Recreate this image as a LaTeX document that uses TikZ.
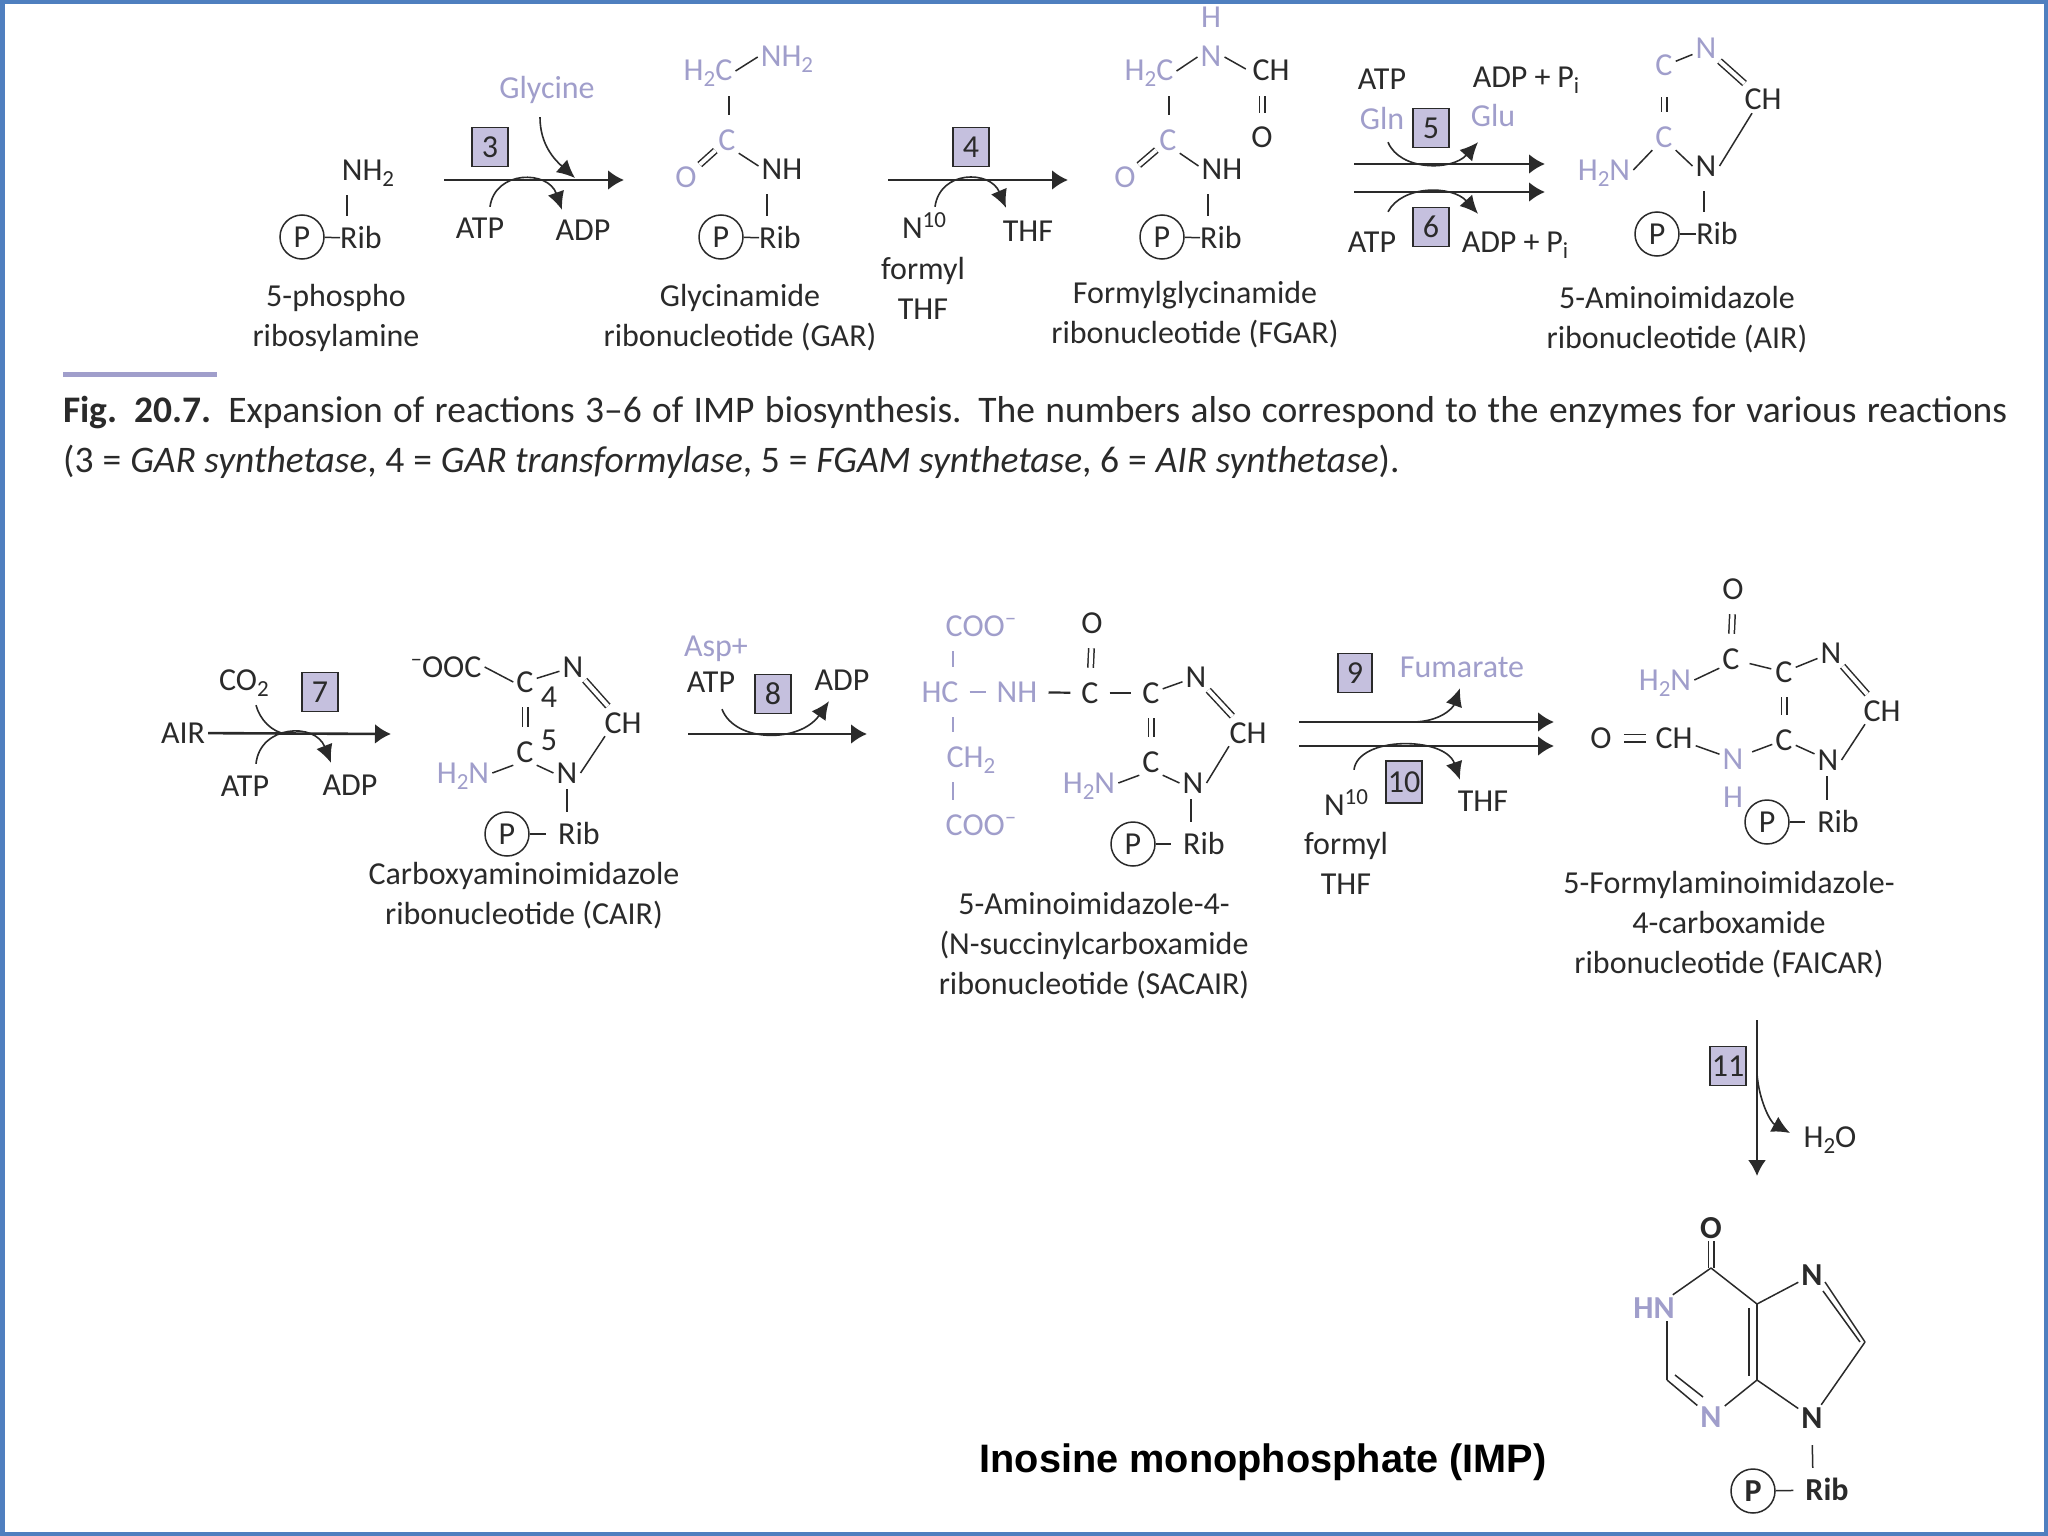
\documentclass[tikz,border=0pt]{standalone}
\usepackage{fontspec}
\setmainfont{Carlito}
\newfontfamily\arialfont{Liberation Sans}
\usepackage{xcolor}
\usepackage{tikz}
\usetikzlibrary{arrows.meta}

\definecolor{ink}{HTML}{2A2A2A}
\definecolor{lilac}{HTML}{A09ECB}
\definecolor{boxfill}{HTML}{C5C0DE}
\definecolor{framecol}{HTML}{4F7FBF}

\newcommand{\subt}[1]{\raisebox{-6pt}{\fontsize{23}{23}\selectfont #1}}
\newcommand{\supt}[1]{\raisebox{11pt}{\fontsize{23}{23}\selectfont #1}}
\newcommand{\eqs}{\hspace{9pt}=\hspace{9pt}}

\tikzset{
	every node/.style={font=\fontsize{32}{40}\selectfont, text=ink},
	atom/.style={inner sep=3pt, text height=20pt, text depth=0pt},
	atomL/.style={atom, text=lilac},
	lbl/.style={align=center, anchor=base, inner sep=0pt, yshift=-1.5pt},
	rib/.style={inner sep=0pt, text height=20pt, text depth=0pt},
	pcirc/.style={circle, draw=ink, line width=1.5pt, minimum size=44pt, inner sep=0pt},
	enz/.style={draw=ink, fill=boxfill, line width=1.3pt, minimum width=36pt, minimum height=39pt, inner sep=0pt},
	bond/.style={draw=ink, line width=1.5pt},
	dbond/.style={bond, double, double distance=4pt},
	vbond/.style={bond, shorten <=12pt, shorten >=12pt},
	vdbond/.style={vbond, double, double distance=4pt},
	hbond/.style={bond, line width=2.2pt, shorten <=8pt, shorten >=8pt},
	rxn/.style={draw=ink, line width=2.6pt, -{Latex[length=16pt, width=20pt]}},
	thinrxn/.style={draw=ink, line width=2pt, -{Latex[length=16pt, width=18pt]}},
	curv/.style={draw=ink, line width=1.6pt, -{Latex[length=18pt, width=17pt]}},
	feed/.style={draw=ink, line width=1.6pt},
	boldtxt/.style={font=\fontsize{32}{40}\selectfont\bfseries}
}

\begin{document}
\begin{tikzpicture}[x=1pt, y=-1pt]
	\useasboundingbox (0,0) rectangle (2048,1536);
	\fill[framecol] (0,0) rectangle (2048,1536);
	\fill[white] (5,4) rectangle (2044,1532);

	% 5-phospho ribosylamine
	\node[atom] (prNH) at (368,170) {NH\subt{2}};
	\node[pcirc] (prP) at (302,237) {P};
	\node[rib] (prR) at (361,238) {Rib};
	\node[lbl] (prName) at (336,345) {5-phospho\\ribosylamine};
	\draw[bond] (prP) -- (prR);
	\draw[vbond] ([xshift=-21pt]prNH.south) -- ([xshift=-14pt]prR.north);

	% reaction 3
	\coordinate (r3a) at (444,180);
	\coordinate (r3b) at (624,180);
	\coordinate (r3g) at (575,178);
	\draw[rxn] (r3a) -- (r3b);
	\node[enz] (e3) at (490,147) {3};
	\node[atomL] (glyc) at (547,89) {Glycine};
	\node[atom] (atp3) at (480,228) {ATP};
	\node[atom] (adp3) at (583,230) {ADP};
	\draw[curv] ([xshift=-7pt,yshift=-15pt]glyc.south) .. controls (540,145) and (555,160) .. (r3g);
	\draw[curv] ([xshift=10pt,yshift=8pt]atp3.north) .. controls (495,170) and (548,170) .. ([xshift=-21pt,yshift=7pt]adp3.north);

	% glycinamide ribonucleotide
	\node[atomL] (garHC) at (708,71) {H\subt{2}C};
	\node[atomL] (garNb) at (787,57) {NH\subt{2}};
	\node[atomL] (garC) at (727,140) {C};
	\node[atomL] (garO) at (686,177) {O};
	\node[atom] (garNH) at (782,169) {NH};
	\node[pcirc] (garP) at (721,237) {P};
	\node[rib] (garR) at (780,238) {Rib};
	\node[lbl] (garName) at (740,345) {Glycinamide\\ribonucleotide (GAR)};
	\draw[bond] (garHC.east) -- (garNb.west);
	\draw[vbond] ([xshift=21pt]garHC.south) -- ([xshift=2pt]garC.north);
	\draw[dbond] (garC) -- (garO);
	\draw[bond] (garC.south east) -- ([yshift=3pt]garNH.west);
	\draw[vbond] ([xshift=-15pt]garNH.south) -- ([xshift=-13pt]garR.north);
	\draw[bond] (garP) -- (garR);

	% reaction 4
	\coordinate (r4a) at (888,180);
	\coordinate (r4b) at (1068,180);
	\draw[rxn] (r4a) -- (r4b);
	\node[enz] (e4) at (971,147) {4};
	\node[atom] (n4) at (924,228) {N\supt{10}};
	\node[atom] (thf4) at (1028,231) {THF};
	\node[lbl] (fth4) at (923,318) {formyl\\THF};
	\draw[curv] ([xshift=11pt,yshift=8pt]n4.north) .. controls (940,170) and (990,170) .. ([xshift=-22pt,yshift=10pt]thf4.north);

	% formylglycinamide ribonucleotide
	\node[atomL] (fgH) at (1211,18) {H};
	\node[atomL] (fgN) at (1211,57) {N};
	\node[atomL] (fgHC) at (1149,71) {H\subt{2}C};
	\node[atom] (fgCH) at (1271,71) {CH};
	\node[atom] (fgOa) at (1262,138) {O};
	\node[atomL] (fgC) at (1168,140) {C};
	\node[atomL] (fgO) at (1125,177) {O};
	\node[atom] (fgNH) at (1222,169) {NH};
	\node[pcirc] (fgP) at (1162,237) {P};
	\node[rib] (fgR) at (1221,238) {Rib};
	\node[lbl] (fgName) at (1195,342) {Formylglycinamide\\ribonucleotide (FGAR)};
	\draw[bond] (fgHC.east) -- (fgN.west);
	\draw[bond, shorten >=4pt] (fgN.east) -- (fgCH.west);
	\draw[vdbond] ([xshift=-9pt]fgCH.south) -- (fgOa.north);
	\draw[vbond] ([xshift=20pt]fgHC.south) -- ([xshift=1pt]fgC.north);
	\draw[dbond] (fgC) -- (fgO);
	\draw[bond] (fgC.south east) -- ([yshift=3pt]fgNH.west);
	\draw[vbond] ([xshift=-14pt]fgNH.south) -- ([xshift=-13pt]fgR.north);
	\draw[bond] (fgP) -- (fgR);

	% reactions 5 and 6
	\coordinate (r5a) at (1354,164);
	\coordinate (r5b) at (1545,164);
	\coordinate (r6a) at (1354,192);
	\coordinate (r6b) at (1545,192);
	\draw[rxn] (r5a) -- (r5b);
	\draw[rxn] (r6a) -- (r6b);
	\node[enz] (e5) at (1431,128) {5};
	\node[enz] (e6) at (1431,227) {6};
	\node[atom] (atp5) at (1382,80) {ATP};
	\node[atom] (adp5) at (1526,78) {ADP\hspace{7pt}+\hspace{7pt}P\subt{i}};
	\node[atomL] (gln) at (1382,120) {Gln};
	\node[atomL] (glu) at (1493,117) {Glu};
	\node[atom] (atp6) at (1372,242) {ATP};
	\node[atom] (adp6) at (1515,242) {ADP\hspace{7pt}+\hspace{7pt}P\subt{i}};
	\draw[curv] ([xshift=6pt,yshift=-9pt]gln.south) .. controls (1400,171) and (1452,171) .. ([xshift=-15pt,yshift=-12pt]glu.south);
	\draw[curv] ([xshift=16pt,yshift=17pt]atp6.north) .. controls (1402,185) and (1452,185) .. ([xshift=-37pt,yshift=15pt]adp6.north);

	% 5-aminoimidazole ribonucleotide
	\node[atomL] (airCa) at (1664,66) {C};
	\node[atomL] (airN) at (1706,49) {N};
	\node[atom] (airCH) at (1763,100) {CH};
	\node[atomL] (airCb) at (1664,137) {C};
	\node[atomL] (airH) at (1604,170) {H\subt{2}N};
	\node[atom] (airNb) at (1706,166) {N};
	\node[pcirc] (airP) at (1657,234) {P};
	\node[rib] (airR) at (1717,234) {Rib};
	\node[lbl] (airName) at (1677,347) {5-Aminoimidazole\\ribonucleotide (AIR)};
	\draw[bond] (airCa) -- (airN);
	\draw[dbond, shorten >=5pt] (airN) -- (airCH);
	\draw[vdbond, shorten <=18pt] (airCa.south) -- (airCb.north);
	\draw[bond] (airH.east) -- (airCb.south west);
	\draw[bond] (airCb.south east) -- (airNb.west);
	\draw[bond] (airNb.east) -- ([xshift=-11pt]airCH.south);
	\draw[vbond] ([xshift=-2pt]airNb.south) -- ([xshift=-13pt]airR.north);
	\draw[bond] (airP) -- (airR);

	% caption
	\fill[lilac] (63,372) rectangle (217,377);
	\node[anchor=north west, inner sep=0pt, text width=1944pt, align=justify, font=\fontsize{37.5}{50}\selectfont] (capt) at (63,396)
		{\textbf{Fig. 20.7.} Expansion of reactions 3--6 of IMP biosynthesis. The numbers also correspond to the enzymes for various reactions\linebreak
		(3\eqs\textit{GAR synthetase}, 4\eqs\textit{GAR transformylase}, 5\eqs\textit{FGAM synthetase}, 6\eqs\textit{AIR synthetase}).};

	% reaction 7
	\node[atom] (air7) at (183,733) {AIR};
	\coordinate (r7b) at (391,734);
	\coordinate (r7m) at (286,734);
	\draw[rxn] (air7) -- (r7b);
	\node[enz] (e7) at (320,692) {7};
	\node[atom] (co2) at (244,680) {CO\subt{2}};
	\node[atom] (atp7) at (245,786) {ATP};
	\node[atom] (adp7) at (350,785) {ADP};
	\draw[feed] ([xshift=12pt,yshift=-12pt]co2.south) .. controls (260,720) and (272,732) .. (r7m);
	\draw[curv] ([xshift=11pt,yshift=9pt]atp7.north) .. controls (260,725) and (315,722) .. ([xshift=-19pt,yshift=9pt]adp7.north);

	% carboxyaminoimidazole ribonucleotide
	\node[atom] (cairOOC) at (446,667) {\supt{--}OOC};
	\node[atom] (cairCa) at (525,682) {C};
	\node[atom] (cair4) at (549,697) {4};
	\node[atom] (cairN) at (573,667) {N};
	\node[atom] (cairCH) at (623,723) {CH};
	\node[atom] (cairCb) at (525,752) {C};
	\node[atom] (cair5) at (549,740) {5};
	\node[atomL] (cairH) at (463,773) {H\subt{2}N};
	\node[atom] (cairNb) at (567,773) {N};
	\node[pcirc] (cairP) at (507,834) {P};
	\node[rib] (cairR) at (579,834) {Rib};
	\node[lbl] (cairName) at (524,923) {Carboxyaminoimidazole\\ribonucleotide (CAIR)};
	\draw[bond] (cairOOC.east) -- (cairCa.west);
	\draw[bond] (cairCa) -- (cairN);
	\draw[dbond, shorten >=5pt] (cairN) -- (cairCH);
	\draw[vdbond] (cairCa.south) -- (cairCb.north);
	\draw[bond] (cairH.east) -- (cairCb.south west);
	\draw[bond] (cairCb.south east) -- (cairNb.west);
	\draw[bond] (cairNb.east) -- ([xshift=-18pt]cairCH.south);
	\draw[vbond, shorten <=3pt] (cairNb.south) -- ([xshift=-12pt]cairR.north);
	\draw[bond, shorten >=12pt] (cairP) -- (cairR);

	% reaction 8
	\coordinate (r8a) at (688,734);
	\coordinate (r8b) at (867,734);
	\draw[rxn] (r8a) -- (r8b);
	\node[enz] (e8) at (773,694) {8};
	\node[atomL] (asp) at (716,646) {Asp+};
	\node[atom] (atp8) at (711,682) {ATP};
	\node[atom] (adp8) at (842,680) {ADP};
	\draw[curv] ([xshift=11pt,yshift=-14pt]atp8.south) .. controls (735,743) and (800,743) .. ([xshift=-13pt,yshift=-8pt]adp8.south);

	% SACAIR
	\node[atomL] (saCOa) at (981,626) {COO\supt{--}};
	\node[atomL] (saHC) at (940,692) {HC};
	\node[atomL] (saNH) at (1017,692) {NH};
	\node[atomL] (saCH) at (971,757) {CH\subt{2}};
	\node[atomL] (saCOb) at (981,825) {COO\supt{--}};
	\node[atom] (saO) at (1092,623) {O};
	\node[atom] (saCa) at (1090,693) {C};
	\node[atom] (saCb) at (1151,693) {C};
	\node[atom] (saN) at (1196,677) {N};
	\node[atom] (saCHb) at (1248,733) {CH};
	\node[atom] (saCc) at (1151,762) {C};
	\node[atomL] (saH) at (1089,783) {H\subt{2}N};
	\node[atom] (saNb) at (1193,783) {N};
	\node[pcirc] (saP) at (1133,844) {P};
	\node[rib] (saR) at (1204,844) {Rib};
	\node[lbl] (saName) at (1094,993) {5-Aminoimidazole-4-\\(N-succinylcarboxamide\\ribonucleotide (SACAIR)};
	\draw[vbond, draw=lilac] ([xshift=-28pt]saCOa.south) -- ([xshift=13pt]saHC.north);
	\draw[vbond, draw=lilac] ([xshift=13pt]saHC.south) -- ([xshift=-18pt]saCH.north);
	\draw[vbond, draw=lilac] ([xshift=-18pt]saCH.south) -- ([xshift=-28pt]saCOb.north);
	\draw[hbond, draw=lilac] (saHC) -- (saNH);
	\draw[hbond] (saNH) -- (saCa);
	\draw[hbond] (saCa) -- (saCb);
	\draw[vdbond] (saO.south) -- (saCa.north);
	\draw[bond] (saCb) -- (saN);
	\draw[dbond, shorten >=5pt] (saN) -- (saCHb);
	\draw[vdbond] (saCb.south) -- (saCc.north);
	\draw[bond] (saH.east) -- (saCc.south west);
	\draw[bond] (saCc.south east) -- (saNb.west);
	\draw[bond] (saNb.east) -- ([xshift=-19pt]saCHb.south);
	\draw[vbond, shorten <=3pt] ([xshift=-2pt]saNb.south) -- ([xshift=-13pt]saR.north);
	\draw[bond, shorten >=12pt] (saP) -- (saR);

	% reactions 9 and 10
	\coordinate (r9a) at (1299,722);
	\coordinate (r9b) at (1554,722);
	\coordinate (r9m) at (1412,722);
	\coordinate (r10a) at (1299,746);
	\coordinate (r10b) at (1554,746);
	\draw[rxn] (r9a) -- (r9b);
	\draw[rxn] (r10a) -- (r10b);
	\node[enz, minimum width=34pt] (e9) at (1355,673) {9};
	\node[atomL] (fum) at (1462,667) {Fumarate};
	\node[enz, minimum height=42pt] (e10) at (1404,782) {10};
	\node[atom] (n10) at (1346,805) {N\supt{10}};
	\node[atom] (thf10) at (1483,801) {THF};
	\node[lbl] (fth10) at (1346,893) {formyl\\THF};
	\draw[curv] (r9m) .. controls (1440,722) and (1453,708) .. ([xshift=-2pt,yshift=-8pt]fum.south);
	\draw[curv] ([xshift=8pt,yshift=22pt]n10.north) .. controls (1358,736) and (1445,736) .. ([xshift=-23pt,yshift=8pt]thf10.north);

	% FAICAR
	\node[atom] (faO) at (1733,589) {O};
	\node[atom] (faCa) at (1731,659) {C};
	\node[atomL] (faH) at (1665,680) {H\subt{2}N};
	\node[atom] (faCb) at (1784,672) {C};
	\node[atom] (faN) at (1831,653) {N};
	\node[atom] (faCH) at (1882,711) {CH};
	\node[atom] (faCc) at (1784,740) {C};
	\node[atom] (faNb) at (1828,760) {N};
	\node[atomL] (faNc) at (1733,759) {N};
	\node[atom] (faCHb) at (1674,738) {CH};
	\node[atom] (faOb) at (1601,738) {O};
	\node[atomL] (faHb) at (1733,797) {H};
	\node[pcirc] (faP) at (1767,822) {P};
	\node[rib] (faR) at (1838,822) {Rib};
	\node[lbl] (faName) at (1729,972) {5-Formylaminoimidazole-\\4-carboxamide\\ribonucleotide (FAICAR)};
	\draw[vdbond] (faO.south) -- (faCa.north);
	\draw[bond] (faH.east) -- ([yshift=4pt]faCa.south west);
	\draw[bond, shorten <=7pt, shorten >=1pt] (faCa) -- (faCb);
	\draw[bond] (faCb) -- (faN);
	\draw[dbond, shorten >=5pt] (faN) -- (faCH);
	\draw[vdbond] (faCb.south) -- (faCc.north);
	\draw[bond] (faCc) -- (faNb);
	\draw[bond] (faNb.east) -- ([xshift=-17pt]faCH.south);
	\draw[bond, shorten <=6pt] (faNc) -- (faCc);
	\draw[bond] (faCHb) -- (faNc);
	\draw[dbond, double distance=6pt, shorten <=9pt, shorten >=6pt] (faOb) -- (faCHb);
	\draw[vbond, shorten <=3pt] ([xshift=-1pt]faNb.south) -- ([xshift=-11pt]faR.north);
	\draw[bond, shorten >=12pt] (faP) -- (faR);

	% reaction 11
	\coordinate (r11a) at (1757,1020);
	\coordinate (r11b) at (1757,1176);
	\coordinate (r11m) at (1757,1074);
	\coordinate (r11w) at (1790,1133);
	\draw[thinrxn] (r11a) -- (r11b);
	\node[enz] (e11) at (1728,1066) {11};
	\node[atom] (water) at (1830,1137) {H\subt{2}O};
	\draw[curv] (r11m) .. controls (1759,1100) and (1770,1122) .. (r11w);

	% inosine monophosphate
	\coordinate (impC6) at (1711,1268);
	\coordinate (impC2) at (1667,1380);
	\coordinate (impC5) at (1757,1304);
	\coordinate (impC4) at (1757,1380);
	\coordinate (impC8) at (1865,1342);
	\node[atom, boldtxt] (impO) at (1711,1228) {O};
	\node[atomL, boldtxt] (impHN) at (1654,1308) {HN};
	\node[atomL, boldtxt] (impNc) at (1711,1417) {N};
	\node[atom, boldtxt] (impN7) at (1812,1275) {N};
	\node[atom, boldtxt] (impN9) at (1812,1418) {N};
	\node[pcirc, boldtxt] (impP) at (1753,1491) {P};
	\node[rib, boldtxt] (impR) at (1827,1490) {Rib};
	\node[anchor=center, inner sep=0pt, font=\arialfont\bfseries\fontsize{39.7}{46}\selectfont, text=black] (impName) at (1263,1462) {Inosine monophosphate (IMP)};
	\draw[dbond] (impO) -- (impC6);
	\draw[bond] (impC6) -- (impHN);
	\draw[bond] ([xshift=13pt]impHN.south) -- (impC2);
	\draw[bond] (impC2) -- (impNc);
	\draw[bond] ([shift={(8,-5)}]impC2) -- ([shift={(-8,-20)}]impNc.center);
	\draw[bond] (impNc) -- (impC4);
	\draw[bond] (impC5) -- (impC4);
	\draw[bond, shorten <=4pt, shorten >=4pt] ([xshift=-8pt]impC5) -- ([xshift=-8pt]impC4);
	\draw[bond] (impC6) -- (impC5);
	\draw[bond] (impC5) -- (impN7);
	\draw[bond] ([shift={(13,7)}]impN7.center) -- (impC8);
	\draw[bond] ([shift={(11,16)}]impN7.center) -- ([xshift=-5pt]impC8);
	\draw[bond] (impC8) -- (impN9);
	\draw[bond] (impC4) -- (impN9);
	\draw[vbond, shorten <=14pt] (impN9.south) -- ([xshift=-14pt]impR.north);
	\draw[bond, shorten >=12pt] (impP) -- (impR);
\end{tikzpicture}
\end{document}
